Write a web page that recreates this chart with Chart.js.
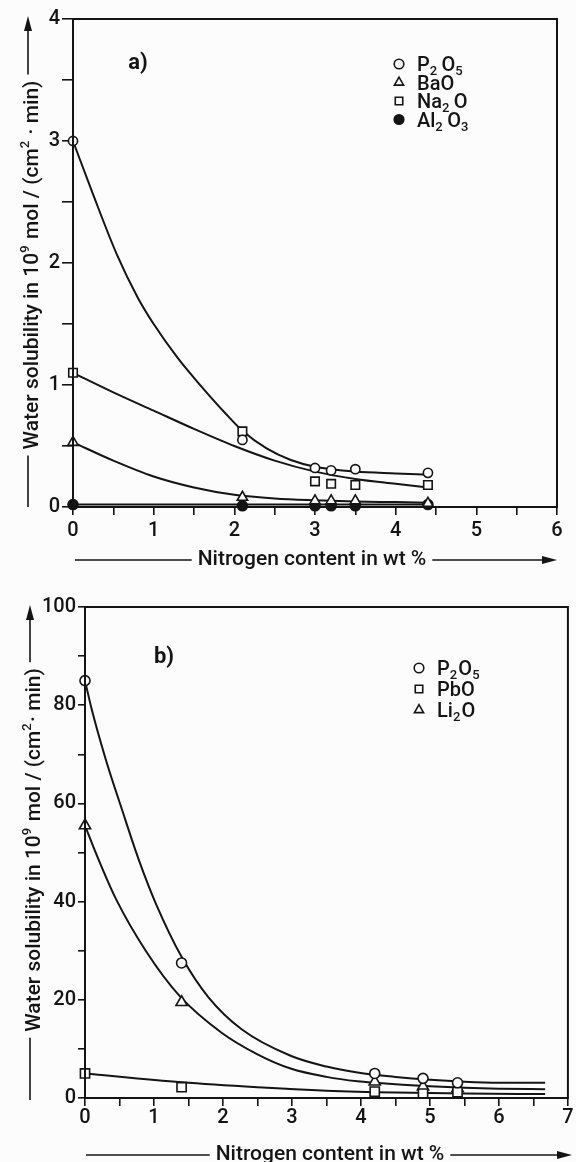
<!DOCTYPE html>
<html><head><meta charset="utf-8">
<script src="https://cdn.jsdelivr.net/npm/chart.js@4.4.1/dist/chart.umd.min.js"></script>
<style>
html,body{margin:0;padding:0;background:#fcfcfc;}
#wrapA{position:absolute;left:0;top:0;width:576px;height:580px;}
#wrapB{position:absolute;left:0;top:580px;width:576px;height:582px;}
canvas{display:block;}
</style></head><body>
<div id="wrapA"><canvas id="chartA" width="576" height="580"></canvas></div>
<div id="wrapB"><canvas id="chartB" width="576" height="582"></canvas></div>
<script>
// ---------- Panel a) data ----------
const aX      = [0, 2.1, 3.0, 3.2, 3.5, 4.4];
const aP2O5   = [3.0, 0.55, 0.32, 0.30, 0.31, 0.28];
const aBaO    = [0.53, 0.08, 0.05, 0.05, 0.05, 0.03];
const aNa2O   = [1.1, 0.62, 0.21, 0.19, 0.18, 0.18];
const aAl2O3  = [0.02, 0.01, 0.01, 0.01, 0.01, 0.02];
// fitted curves
const aFitP2O5X = [0, 0.25, 0.55, 0.8, 1.0, 1.3, 1.55, 1.9, 2.1, 2.4, 2.7, 3.0, 3.5, 4.0, 4.4];
const aFitP2O5Y = [3.0, 2.56, 2.06, 1.72, 1.5, 1.22, 1.02, 0.76, 0.625, 0.48, 0.385, 0.33, 0.29, 0.275, 0.265];
const aFitNa2OX = [0, 0.5, 1.0, 1.5, 2.0, 2.5, 3.0, 3.5, 4.0, 4.4];
const aFitNa2OY = [1.1, 0.94, 0.79, 0.64, 0.5, 0.38, 0.29, 0.23, 0.19, 0.16];
const aFitBaOX  = [0, 0.5, 1.0, 1.5, 2.0, 2.5, 3.0, 3.5, 4.0, 4.4];
const aFitBaOY  = [0.53, 0.38, 0.25, 0.16, 0.10, 0.07, 0.055, 0.045, 0.04, 0.035];
const aFitAl2O3X = [0, 4.4];
const aFitAl2O3Y = [0.02, 0.02];
const aXTickLabels = ['0','1','2','3','4','5','6'];
const aYTickLabels = ['0','1','2','3','4'];

// ---------- Panel b) data ----------
const bX     = [0, 1.4, 4.2, 4.9, 5.4];
const bP2O5  = [85, 27.5, 5.0, 4.0, 3.1];
const bPbO   = [5.0, 2.2, 1.3, 0.9, 1.2];
const bLi2O  = [55.5, 19.5, 3.3, 2.3, 2.0];
const bFitP2O5X = [0, 0.1, 0.3, 0.53, 0.78, 1.03, 1.41, 1.79, 2.27, 2.98, 3.5, 3.95, 4.5, 5.0, 5.5, 6.0, 6.67];
const bFitP2O5Y = [85, 79, 69, 59, 48.5, 39.5, 28.5, 20.5, 14, 8.6, 6.4, 5.2, 4.3, 3.7, 3.3, 3.1, 3.1];
const bFitLi2OX = [0, 0.16, 0.45, 0.88, 1.37, 1.98, 2.5, 2.98, 3.5, 3.95, 4.5, 5.0, 5.5, 6.0, 6.67];
const bFitLi2OY = [55.5, 49.8, 40.5, 30, 20.8, 13.3, 8.9, 6.0, 4.3, 3.4, 2.8, 2.4, 2.1, 1.9, 1.8];
const bFitPbOX  = [0, 1.4, 2.5, 3.5, 4.5, 5.5, 6.67];
const bFitPbOY  = [5.0, 3.2, 2.2, 1.5, 1.1, 0.9, 0.8];
const bXTickLabels = ['0','1','2','3','4','5','6','7'];
const bYTickLabels = ['0','20','40','60','80','100'];

const INK = '#141414';
const FAMILY = 'Roboto, "DejaVu Sans", sans-serif';
Chart.defaults.font.family = FAMILY;
Chart.defaults.font.weight = 500;
Chart.defaults.color = INK;

const zip = (xs, ys) => xs.map((x, i) => ({x, y: ys[i]}));

// ---------- rich text (sub/superscripts) ----------
const SUBS = '₀₁₂₃₄₅₆₇₈₉', SUPS = '⁰¹²³⁴⁵⁶⁷⁸⁹';
function parseRich(s) {
  const out = [];
  for (const ch of s) {
    let mode = 'n', c = ch, i = SUBS.indexOf(ch);
    if (i >= 0) { mode = 'sub'; c = String(i); }
    else { i = SUPS.indexOf(ch); if (i >= 0) { mode = 'sup'; c = String(i); } }
    const last = out[out.length - 1];
    if (last && last.mode === mode) last.t += c; else out.push({t: c, mode});
  }
  return out;
}
function segFont(s, size, weight) {
  return `${weight} ${s.mode === 'n' ? size : Math.round(size * 0.64)}px ${FAMILY}`;
}
function richWidth(ctx, segs, size, weight, extra) {
  let w = 0;
  for (const s of segs) { ctx.font = segFont(s, size, weight); w += ctx.measureText(s.t).width; if (s.mode !== 'n') w += size * extra; }
  return w;
}
function drawRich(ctx, str, x, y, o) {
  const size = o.size, weight = o.weight || 500, extra = o.extra == null ? 0.06 : o.extra;
  const segs = parseRich(str);
  const w = richWidth(ctx, segs, size, weight, extra);
  let cx = o.align === 'center' ? x - w / 2 : x;
  const base = y + size * 0.36;
  ctx.textAlign = 'left'; ctx.textBaseline = 'alphabetic'; ctx.fillStyle = INK;
  for (const s of segs) {
    ctx.font = segFont(s, size, weight);
    let by = base;
    if (s.mode === 'sub') by = base + size * 0.2;
    if (s.mode === 'sup') by = base - size * 0.42;
    ctx.fillText(s.t, cx, by);
    cx += ctx.measureText(s.t).width + (s.mode !== 'n' ? size * extra : 0);
  }
  return w;
}
function arrowHead(ctx, x, y, dir) {
  ctx.beginPath();
  if (dir === 'up') { ctx.moveTo(x, y); ctx.lineTo(x - 4, y + 15); ctx.lineTo(x + 4, y + 15); }
  else { ctx.moveTo(x, y); ctx.lineTo(x - 15, y - 4); ctx.lineTo(x - 15, y + 4); }
  ctx.closePath(); ctx.fill();
}

// ---------- decoration plugin ----------
const decor = {
  id: 'decor',
  afterDraw(chart, args, o) {
    const ctx = chart.ctx, a = chart.chartArea;
    ctx.save();
    ctx.strokeStyle = INK; ctx.fillStyle = INK; ctx.lineWidth = 2;
    ctx.strokeRect(a.left, a.top, a.right - a.left, a.bottom - a.top);
    drawRich(ctx, o.panel.text, o.panel.x, o.panel.y, {size: o.panel.size, weight: 700, align: 'center'});
    const L = o.legend;
    let row = 0;
    chart.data.datasets.forEach(ds => {
      if (!ds.inLegend) return;
      const y = L.y0 + row * L.dy;
      ctx.fillStyle = ds.pointBackgroundColor; ctx.strokeStyle = ds.pointBorderColor; ctx.lineWidth = 1.6;
      Chart.helpers.drawPoint(ctx, {pointStyle: ds.pointStyle, rotation: 0, radius: L.r * (ds.legendScale || 1), borderWidth: 1.6}, L.sx, y);
      drawRich(ctx, ds.label, L.tx, y, {size: L.size, weight: 500, extra: L.extra});
      row++;
    });
    ctx.strokeStyle = INK; ctx.fillStyle = INK; ctx.lineWidth = 1.6;
    const X = o.xTitle;
    const xw = drawRich(ctx, X.text, X.cx, X.y, {size: X.size, align: 'center'});
    ctx.beginPath();
    ctx.moveTo(X.left, X.y + 3); ctx.lineTo(X.cx - xw / 2 - 6, X.y + 3);
    ctx.moveTo(X.cx + xw / 2 + 6, X.y + 3); ctx.lineTo(X.right - 10, X.y + 3);
    ctx.stroke();
    arrowHead(ctx, X.right, X.y + 3, 'right');
    const Y = o.yTitle;
    ctx.save();
    ctx.translate(Y.x, Y.cy); ctx.rotate(-Math.PI / 2);
    const yw = drawRich(ctx, Y.text, 0, 0, {size: Y.size, align: 'center'});
    ctx.restore();
    ctx.strokeStyle = INK; ctx.fillStyle = INK; ctx.lineWidth = 1.6;
    const lx = Y.x - 2;
    ctx.beginPath();
    ctx.moveTo(lx, Y.bottom); ctx.lineTo(lx, Y.cy + yw / 2 + 6);
    ctx.moveTo(lx, Y.cy - yw / 2 - 6); ctx.lineTo(lx, Y.top + 10);
    ctx.stroke();
    arrowHead(ctx, lx, Y.top, 'up');
    ctx.restore();
  }
};

function pointSet(label, xs, ys, style, r, filled) {
  return {label, data: zip(xs, ys), showLine: false, inLegend: true,
    pointStyle: style, pointRadius: r, pointHoverRadius: r, pointBorderWidth: 1.6,
    pointBorderColor: INK, pointBackgroundColor: filled ? INK : '#fcfcfc',
    legendScale: style === 'circle' ? 0.8 : 0.88, clip: false, order: 0};
}
function curveSet(xs, ys) {
  return {label: '', data: zip(xs, ys), showLine: true, pointRadius: 0, pointHoverRadius: 0,
    borderColor: INK, borderWidth: 2, cubicInterpolationMode: 'monotone', fill: false, clip: false, order: 1};
}
function axis(min, max, step, labels, tickLen, pad, fixSize, horizontal) {
  return {
    type: 'linear', min, max,
    ticks: {stepSize: step, autoSkip: false, maxRotation: 0, padding: pad, color: INK,
      font: {size: 20, weight: 500},
      callback: v => labels.includes(String(v)) ? String(v) : ''},
    grid: {drawOnChartArea: false, drawTicks: true, tickLength: tickLen, color: INK, lineWidth: 1.6},
    border: {display: true, color: INK, width: 2},
    afterFit(s) {
      if (horizontal) { s.height = fixSize; s.paddingLeft = 0; s.paddingRight = 0; }
      else { s.width = fixSize; s.paddingTop = 0; s.paddingBottom = 0; }
    }
  };
}
const common = {
  responsive: false, animation: false, devicePixelRatio: 1,
  plugins: {legend: {display: false}, tooltip: {enabled: false}},
  events: []
};

new Chart(document.getElementById('chartA'), {
  type: 'scatter',
  data: {datasets: [
    pointSet('P₂O₅', aX, aP2O5, 'circle', 4.6, false),
    pointSet('BaO', aX, aBaO, 'triangle', 6, false),
    pointSet('Na₂O', aX, aNa2O, 'rect', 6, false),
    pointSet('Al₂O₃', aX, aAl2O3, 'circle', 5, true),
    curveSet(aFitP2O5X, aFitP2O5Y),
    curveSet(aFitNa2OX, aFitNa2OY),
    curveSet(aFitBaOX, aFitBaOY),
    curveSet(aFitAl2O3X, aFitAl2O3Y)
  ]},
  options: Object.assign({}, common, {
    layout: {padding: {top: 19, right: 19, left: 0, bottom: 0}},
    scales: {
      x: axis(0, 6, 0.5, aXTickLabels, 8, 4, 73, true),
      y: axis(0, 4, 0.5, aYTickLabels, 11, 2, 73, false)
    },
    plugins: Object.assign({}, common.plugins, {decor: {
      panel: {text: 'a)', x: 138, y: 61, size: 22},
      legend: {sx: 399, tx: 417, y0: 64, dy: 18.5, r: 6, size: 20, extra: 0.22},
      xTitle: {text: 'Nitrogen content in wt %', cx: 312, y: 557, left: 75, right: 557, size: 21},
      yTitle: {text: 'Water solubility in 10⁹ mol / (cm² · min)', x: 30, cy: 265, top: 16, bottom: 507, size: 21}
    }})
  }),
  plugins: [decor]
});

new Chart(document.getElementById('chartB'), {
  type: 'scatter',
  data: {datasets: [
    pointSet('P₂O₅', bX, bP2O5, 'circle', 5, false),
    pointSet('PbO', bX, bPbO, 'rect', 6.5, false),
    pointSet('Li₂O', bX, bLi2O, 'triangle', 6.5, false),
    curveSet(bFitP2O5X, bFitP2O5Y),
    curveSet(bFitLi2OX, bFitLi2OY),
    curveSet(bFitPbOX, bFitPbOY)
  ]},
  options: Object.assign({}, common, {
    layout: {padding: {top: 27, right: 3, left: 0, bottom: 0}},
    scales: {
      x: axis(0, 7, 0.5, bXTickLabels, 8, 0, 64, true),
      y: axis(0, 100, 10, bYTickLabels, 7, 2, 85, false)
    },
    plugins: Object.assign({}, common.plugins, {decor: {
      panel: {text: 'b)', x: 164, y: 75, size: 22},
      legend: {sx: 419, tx: 437, y0: 88, dy: 21, r: 6, size: 20, extra: 0.06},
      xTitle: {text: 'Nitrogen content in wt %', cx: 330, y: 572, left: 86, right: 572, size: 21},
      yTitle: {text: 'Water solubility in 10⁹ mol / (cm²· min)', x: 32, cy: 270, top: 25, bottom: 520, size: 21}
    }})
  }),
  plugins: [decor]
});
</script></body></html>
